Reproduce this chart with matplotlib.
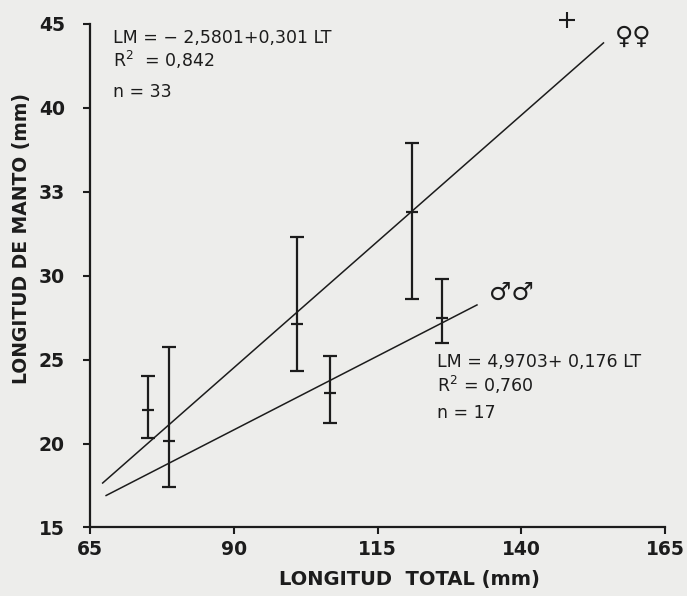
import matplotlib
matplotlib.use("Agg")
import matplotlib.pyplot as plt
import numpy as np

# ---- data ----
lt_points = [75.0, 78.7, 101.0, 106.7, 121.0, 126.2]
lm_mean = [22.0, 20.15, 27.1, 23.0, 33.8, 27.5]
lm_low = [20.3, 17.4, 24.3, 21.2, 28.6, 26.0]
lm_high = [24.05, 25.75, 32.3, 25.2, 37.9, 29.8]

# regressions
fem_a, fem_b = -2.5801, 0.301
fem_range = [67.2, 154.3]
mal_a, mal_b = 4.9703, 0.176
mal_range = [67.8, 132.3]

# stray cross marker
cross_lt = [147.9]
cross_lm = [45.24]

x_ticks = [65, 90, 115, 140, 165]
y_ticks = [15, 20, 25, 30, 35, 40, 45]
y_ticklabels = ["15", "20", "25", "30", "33", "40", "45"]

ink = "#1c1c1c"
paper = "#ededeb"

fig = plt.figure(figsize=(6.87, 5.96), dpi=100, facecolor=paper)
ax = fig.add_axes([90 / 687, 0.115, 575 / 687, 0.845])
ax.set_facecolor(paper)

ax.set_xlim(65, 165)
ax.set_ylim(15, 45)

for s in ["top", "right"]:
    ax.spines[s].set_visible(False)
for s in ["left", "bottom"]:
    ax.spines[s].set_color(ink)
    ax.spines[s].set_linewidth(1.6)

ax.set_xticks(x_ticks)
ax.set_xticklabels([str(v) for v in x_ticks])
ax.set_yticks(y_ticks)
ax.set_yticklabels(y_ticklabels)
ax.tick_params(axis="both", direction="out", length=5, width=1.5, color=ink,
               labelsize=13.5, labelcolor=ink)
ax.tick_params(axis="y", pad=13)
ax.tick_params(axis="x", pad=4)
for lab in ax.get_xticklabels() + ax.get_yticklabels():
    lab.set_fontweight("bold")

# regression lines
xf = np.array(fem_range)
ax.plot(xf, fem_a + fem_b * xf, color=ink, lw=1.1)
xm = np.array(mal_range)
ax.plot(xm, mal_a + mal_b * xm, color=ink, lw=1.1)

# error bars (range) with mean tick
lt = np.array(lt_points)
mean = np.array(lm_mean)
err = np.vstack([mean - np.array(lm_low), np.array(lm_high) - mean])
ax.errorbar(lt, mean, yerr=err, fmt="none", ecolor=ink, elinewidth=1.6,
            capsize=5, capthick=1.6)
ax.plot(lt, mean, linestyle="none", marker="_", markersize=8,
        markeredgewidth=1.6, color=ink)

ax.plot(cross_lt, cross_lm, linestyle="none", marker="+", markersize=12,
        markeredgewidth=1.5, color=ink, clip_on=False)

# annotations
tkw = dict(color=ink, fontsize=12.5, va="baseline", ha="left")
ax.text(69.0, 43.87, "LM = − 2,5801+0,301 LT", **tkw)
ax.text(69.0, 42.40, "R$^{2}$  = 0,842", **tkw)
ax.text(69.0, 40.65, "n = 33", **tkw)

ax.text(125.3, 24.58, "LM = 4,9703+ 0,176 LT", **tkw)
ax.text(125.3, 23.05, "R$^{2}$ = 0,760", **tkw)
ax.text(125.3, 21.50, "n = 17", **tkw)

ax.text(159.5, 44.2, "♀♀", color=ink, fontsize=18, ha="center", va="center",
        clip_on=False)
ax.text(138.2, 28.96, "♂♂", color=ink, fontsize=18, ha="center", va="center")

fig.text(409 / 687, 1 - 580 / 596, "LONGITUD  TOTAL (mm)", ha="center",
         va="center", fontsize=14, fontweight="bold", color=ink)
fig.text(22 / 687, 1 - 238 / 596, "LONGITUD DE MANTO (mm)", ha="center",
         va="center", rotation=90, fontsize=13.5, fontweight="bold", color=ink)

fig.savefig("out.png", dpi=100, facecolor=paper)
